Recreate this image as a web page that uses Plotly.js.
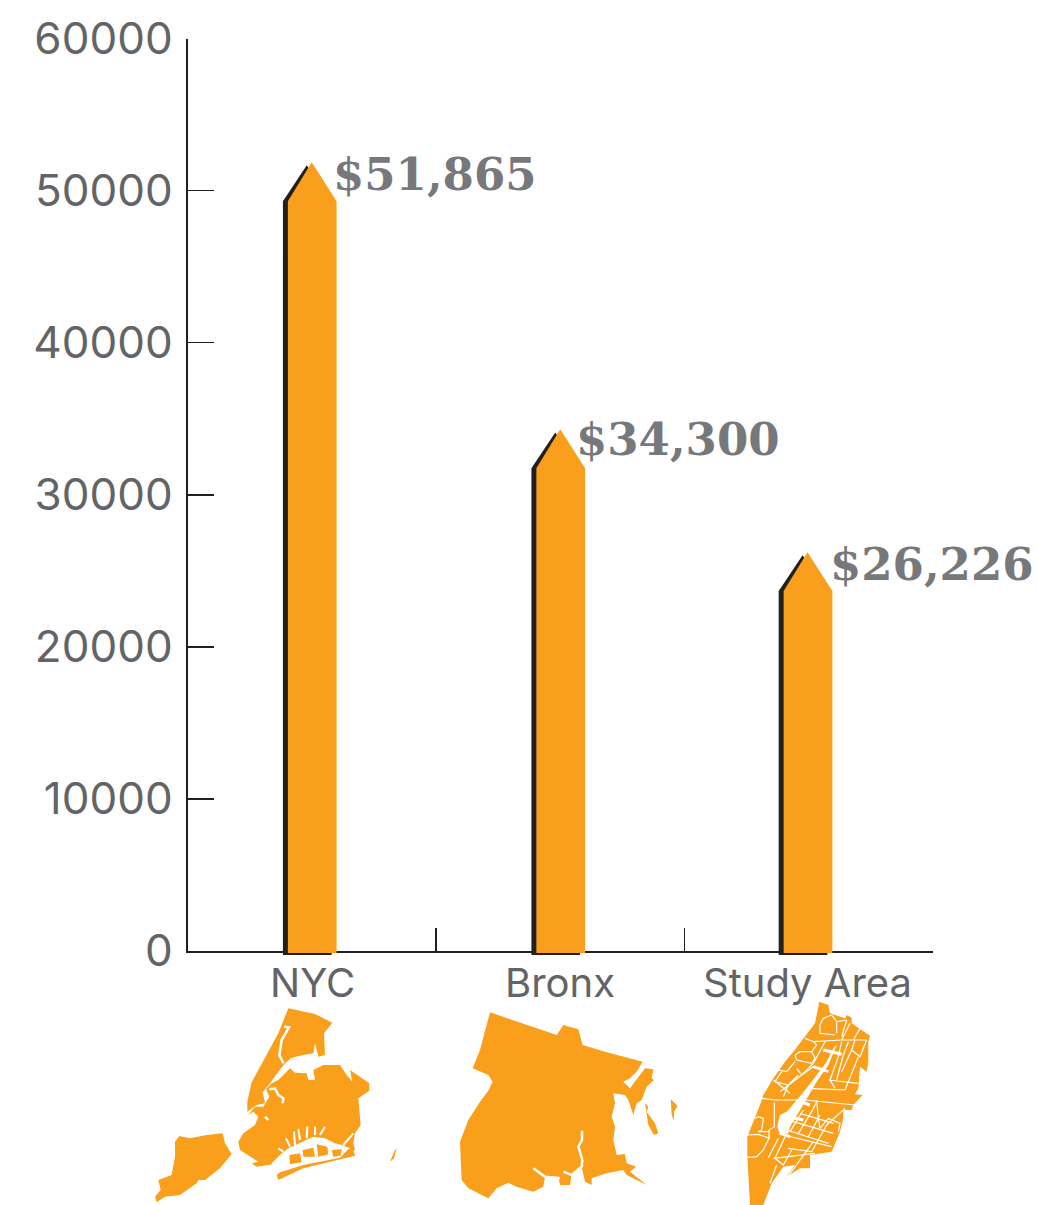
<!DOCTYPE html>
<html><head><meta charset="utf-8">
<script src="https://cdn.plot.ly/plotly-3.0.1.min.js"></script>
<style>html,body{margin:0;padding:0;background:#fff}#chart{width:1038px;height:1205px}</style>
</head><body><div id="chart"></div>
<script>
// ---- chart data ----
const categories = ["NYC", "Bronx", "Study Area"];
const medianIncome = [51865, 34300, 26226];
const valueLabels = ["$51,865", "$34,300", "$26,226"];
const barCentres = [0.5, 1.5, 2.495];
const yTicks = [0, 10000, 20000, 30000, 40000, 50000, 60000];
const xTicks = [0, 1, 2, 3];

// ---- decorative locator maps, traced outlines (local units) ----
const nycLand = [
 [[118,408],[150,415],[200,405],[248,400],[255,430],[275,462],[240,505],[195,540],[175,540],[170,550],[120,585],[75,590],[50,607],[45,590],[62,570],[55,540],[95,525],[105,470],[105,425]],
 [[445,25],[510,38],[525,42],[577,68],[560,92],[552,100],[555,165],[535,170],[525,130],[520,160],[490,165],[455,173],[435,190],[415,215],[390,250],[368,277],[375,310],[350,315],[322,335],[322,305],[335,247],[385,155],[415,100]],
 [[415,240],[450,205],[465,218],[500,220],[505,240],[525,240],[520,210],[550,195],[600,195],[620,225],[637,245],[630,210],[688,250],[688,272],[655,295],[662,375],[645,400],[640,430],[645,450],[590,470],[480,490],[420,490],[350,500],[335,490],[355,485],[330,470],[300,450],[295,425],[310,400],[345,375],[355,350],[340,335],[325,345],[345,320],[370,320],[388,290],[378,268],[395,250]]
];
const nycBay = [[5,145],[30,120],[55,100],[75,90],[100,80],[130,65],[165,70],[195,85],[215,90],[240,100],[225,120],[195,130],[150,140],[100,145],[50,150],[5,152]];
const nycMarsh = [
 [[58,120],[90,115],[95,142],[60,148]],
 [[98,105],[130,98],[135,125],[100,125]],
 [[140,88],[172,95],[175,118],[145,125]],
 [[185,105],[215,103],[212,122],[190,125]]
];
const nycSpikes = [
 [[75,90],[72,50]],[[90,75],[85,42]],[[110,70],[112,35]],[[135,60],[135,35]],[[150,60],[165,35]],
 [[40,110],[25,100]],[[60,95],[48,70]],[[220,90],[250,55]]
];
const nycBarrier = [
 [[25,195],[20,180],[30,172],[100,150],[210,128],[235,102],[250,105],[255,122],[100,160]]
];
const nycFar = [[[750,485],[765,450],[770,445],[762,475]]];
const nycWaterLines = [
 [[432,80],[447,82],[425,120],[418,165],[430,190]],
 [[388,268],[405,265],[415,285],[430,295],[428,310]],
 [[375,350],[385,360]]
];
const bronxLand = [
 [[120,37],[320,105],[340,75],[385,88],[398,135],[465,155],[578,185],[560,215],[540,235],[520,245],[540,265],[570,225],[585,205],[610,208],[605,235],[612,240],[590,260],[575,300],[560,310],[550,345],[535,300],[525,285],[490,280],[495,310],[485,350],[495,380],[490,420],[500,465],[525,462],[530,490],[558,500],[540,515],[590,555],[530,525],[520,510],[470,520],[425,535],[425,555],[405,545],[395,500],[365,525],[360,555],[330,555],[325,530],[285,530],[280,560],[250,575],[200,560],[175,548],[140,565],[115,595],[85,580],[55,565],[35,540],[30,425],[55,360],[90,305],[115,272],[128,245],[115,225],[68,205],[90,150]],
 [[585,310],[595,320],[590,335],[615,370],[625,400],[612,405],[595,375],[590,340]],
 [[662,298],[683,318],[672,335],[672,362],[665,345]]
];
const bronxWaterLines = [
 [[396,392],[396,420],[385,440],[397,480],[395,500],[365,525],[340,515]],
 [[250,505],[285,530],[330,535]]
];
const studyLand = [
 [[268,20],[295,30],[300,55],[345,70],[350,60],[365,68],[365,85],[420,122],[415,140],[415,200],[410,230],[390,215],[385,280],[375,298],[398,300],[370,330],[365,345],[340,345],[340,370],[330,410],[305,470],[240,480],[240,520],[210,520],[170,545],[195,510],[160,515],[125,565],[100,630],[60,630],[52,480],[52,425],[90,330],[100,300],[130,250],[165,200],[190,170],[255,85]]
];
const studyLake = [[133,322],[150,360],[170,350],[205,310],[245,260],[290,200],[310,160],[320,150],[295,210],[260,260],[225,320],[180,395],[175,415],[150,420],[142,395],[150,360]];
const studyWideStreets = [
 [[250,215],[295,230]],[[280,165],[335,178]],[[210,320],[240,330]],[[190,368],[220,375]],[[150,415],[180,425]]
];
const studyStreetsNorth = [
 [[260,45],[235,55],[225,75],[225,100],[270,105]],
 [[260,45],[275,65],[275,100]],
 [[275,65],[305,60]],[[305,60],[290,110]],
 [[315,70],[290,120]],[[345,85],[325,120]],
 [[180,115],[205,125],[290,120],[365,120]],
 [[205,125],[215,135],[200,155]],
 [[150,165],[165,155],[200,155],[210,175],[200,190],[155,180],[150,165]],
 [[240,125],[205,190],[170,225],[105,275]],
 [[100,210],[125,215],[150,185]],
 [[110,215],[90,245],[130,255],[160,225]],
 [[85,240],[135,280]],
 [[155,205],[170,225],[205,200]],
 [[290,125],[280,170],[255,240],[270,265]],
 [[310,125],[295,165],[275,240]],
 [[330,120],[320,150],[345,170],[365,120]],
 [[320,150],[290,215]],
 [[340,170],[300,270]],
 [[250,240],[340,250]],
 [[130,255],[115,290]],
 [[190,265],[300,270]]
];
const studyStreetsSouth = [
 [[8,187],[35,185],[55,165],[72,130],[72,105],[88,95],[88,22]],
 [[8,120],[40,118],[75,130]],
 [[40,65],[55,70],[50,105],[40,110],[75,110]],
 [[30,70],[40,65]],
 [[50,10],[90,15],[180,15],[330,30]],
 [[70,188],[100,130]],
 [[120,125],[90,190],[115,210],[140,165]],
 [[95,210],[75,265]],
 [[125,250],[170,190],[205,140]],
 [[115,120],[260,155]],
 [[125,105],[250,145]],
 [[145,80],[265,115]],
 [[165,55],[265,85]],
 [[135,110],[165,60],[175,45]],
 [[160,115],[200,50],[215,20]],
 [[190,125],[225,60]],
 [[200,170],[245,90],[300,40]],
 [[215,15],[220,70],[225,100],[250,70],[285,85],[280,110]],
 [[130,160],[200,170]],
 [[85,190],[210,175]]
];

// ---- style ----
const ORANGE = "#f99f1b", DARK = "#231f20", GREY = "#636466", LABEL = "#77787b";
const UI = "Inter, 'Liberation Sans', sans-serif";

function pentagon(c, v, o) {
  const l = c + o.left, r = c + o.right, t = c + o.tip;
  const top = v + o.topShift, sh = v - o.shoulder;
  return {x:[l, l, t, r, r, l, null], y:[o.base, sh, top, sh, o.base, o.base, null]};
}
function bars(o) {
  const x = [], y = [];
  barCentres.forEach((c, i) => {
    const p = pentagon(c, medianIncome[i], o);
    x.push(...p.x); y.push(...p.y);
  });
  return {x, y};
}
const shadow = bars({left:-0.116, right:0.08, tip:-0.02, topShift:-200, shoulder:2560, base:-260});
const front  = bars({left:-0.096, right:0.1, tip:0, topShift:0, shoulder:2560, base:-130});

function flat(polys, ox, oy) {
  const x = [], y = [];
  polys.forEach(p => {
    p.forEach(q => { x.push(ox + q[0] / 3); y.push(oy + q[1] / 3); });
    x.push(null); y.push(null);
  });
  return {x, y};
}
function mapFill(polys, ox, oy, colour) {
  const f = flat(polys.map(p => p.concat([p[0]])), ox, oy);
  return {type:"scatter", mode:"lines", xaxis:"x2", yaxis:"y2", x:f.x, y:f.y, fill:"toself",
          fillcolor:colour, line:{width:0, color:colour}, hoverinfo:"skip", showlegend:false};
}
function mapLines(polys, ox, oy, w) {
  const f = flat(polys, ox, oy);
  return {type:"scatter", mode:"lines", xaxis:"x2", yaxis:"y2", x:f.x, y:f.y,
          line:{width:w, color:"#fff"}, hoverinfo:"skip", showlegend:false};
}

const traces = [
  mapFill(nycLand, 140, 1000, ORANGE),
  mapFill([nycBay], 270, 1115, "#ffffff"),
  mapFill(nycMarsh, 270, 1115, ORANGE),
  mapLines(nycSpikes, 270, 1115, 2),
  mapFill(nycBarrier, 270, 1115, ORANGE),
  mapFill(nycFar, 140, 1000, ORANGE),
  mapLines(nycWaterLines, 140, 1000, 2.5),
  mapFill(bronxLand, 450, 1000, ORANGE),
  mapLines(bronxWaterLines, 450, 1000, 2.5),
  mapFill(studyLand, 730, 995, ORANGE),
  mapFill([studyLake], 730, 995, "#ffffff"),
  mapLines(studyWideStreets, 730, 995, 3),
  mapLines(studyStreetsNorth, 745, 1000, 1.2),
  mapLines(studyStreetsSouth, 745, 1095, 1.2),
  {type:"scatter", mode:"lines", xaxis:"x3", yaxis:"y3", x:shadow.x, y:shadow.y, fill:"toself", fillcolor:DARK,
   line:{width:0, color:DARK}, hoverinfo:"skip", showlegend:false},
  {type:"scatter", mode:"lines", xaxis:"x3", yaxis:"y3", x:front.x, y:front.y, fill:"toself", fillcolor:ORANGE,
   line:{width:0, color:ORANGE}, hoverinfo:"skip", showlegend:false}
];

const labelShift = [19, 14, 20];
const labelDrop = [12, 10, 12];
const catShift = [1, 0, 0];
const annotations = [];
categories.forEach((c, i) => {
  annotations.push({x:barCentres[i], y:0, xref:"x", yref:"y", text:c, showarrow:false,
    xanchor:"center", yanchor:"middle", xshift:catShift[i], yshift:-31,
    font:{family:UI, size:40, color:GREY}});
  annotations.push({x:barCentres[i], y:medianIncome[i], xref:"x", yref:"y", text:"<b>"+valueLabels[i]+"</b>",
    showarrow:false, xanchor:"left", yanchor:"middle", xshift:labelShift[i], yshift:-labelDrop[i],
    font:{family:"'DejaVu Serif', serif", size:45, color:LABEL}});
});

const W = 1038, H = 1205;
const Y_LOW = -394.5;               // extra room so bar feet can pass just below the axis
const layout = {
  width:W, height:H, margin:{l:0,r:0,t:0,b:0,pad:0},
  paper_bgcolor:"#fff", plot_bgcolor:"rgba(0,0,0,0)", showlegend:false,
  xaxis:{domain:[187.5/W, 933/W], range:[0,3], anchor:"y", tickmode:"array", tickvals:xTicks,
         ticktext:xTicks.map(()=>""), ticks:"inside", ticklen:23, tickwidth:1.5, tickcolor:DARK,
         showline:true, linecolor:DARK, linewidth:2, showgrid:false, zeroline:false},
  yaxis:{domain:[(H-951)/H, (H-38.5)/H], range:[0,60000], anchor:"x", tickmode:"array", tickvals:yTicks,
         ticktext:yTicks.map(String), ticks:"inside", ticklen:26, tickwidth:1.5, tickcolor:DARK,
         ticklabelstandoff:4,
         tickfont:{family:UI, size:44, color:GREY},
         showline:true, linecolor:DARK, linewidth:2, showgrid:false, zeroline:false},
  xaxis2:{domain:[0,1], range:[0,W], anchor:"y2", visible:false, fixedrange:true},
  yaxis2:{domain:[0,1], range:[H,0], anchor:"x2", visible:false, fixedrange:true},
  xaxis3:{domain:[187.5/W, 933/W], range:[0,3], anchor:"y3", visible:false, fixedrange:true},
  yaxis3:{domain:[(H-957)/H, (H-38.5)/H], range:[Y_LOW,60000], anchor:"x3", visible:false, fixedrange:true},
  annotations
};
Plotly.newPlot("chart", traces, layout, {displayModeBar:false, staticPlot:true});
</script></body></html>
